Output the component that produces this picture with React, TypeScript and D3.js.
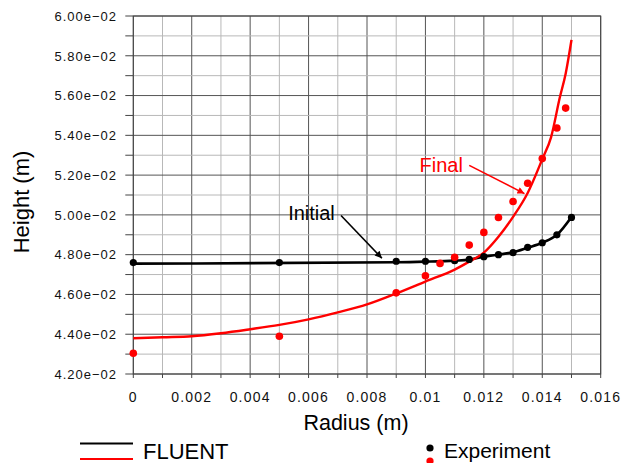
import React, { useEffect, useRef } from "react";
import * as d3 from "d3";

// FLUENT profiles (radius m, height m)
const fluentInitialX = [0, 0.009, 0.010, 0.011, 0.0115, 0.012, 0.0125, 0.013, 0.0135, 0.014, 0.0145, 0.015];
const fluentInitialY = [0.04755, 0.04762, 0.04765, 0.0477, 0.04775, 0.0479, 0.048, 0.04812, 0.04835, 0.0486, 0.049, 0.0499];

const fluentFinalX = [0, 0.001, 0.002, 0.003, 0.004, 0.005, 0.006, 0.007, 0.008, 0.009, 0.010, 0.011, 0.0115, 0.012, 0.0125, 0.013, 0.0135, 0.014, 0.0143, 0.0146, 0.0148, 0.015];
const fluentFinalY = [0.0438, 0.04385, 0.0439, 0.04405, 0.04425, 0.04447, 0.04475, 0.0451, 0.0455, 0.04605, 0.04665, 0.04725, 0.04765, 0.0481, 0.0489, 0.0499, 0.0511, 0.0528, 0.0539, 0.0559, 0.0571, 0.0588];

// Experiment points
const expInitialX = [0, 0.005, 0.009, 0.010, 0.011, 0.0115, 0.012, 0.0125, 0.013, 0.0135, 0.014, 0.0145, 0.015];
const expInitialY = [0.0476, 0.0476, 0.04767, 0.04767, 0.0477, 0.04776, 0.0479, 0.048, 0.0481, 0.04837, 0.0486, 0.049, 0.04987];

const expFinalX = [0, 0.005, 0.009, 0.010, 0.0105, 0.011, 0.0115, 0.012, 0.0125, 0.013, 0.0135, 0.014, 0.0145, 0.0148];
const expFinalY = [0.04304, 0.0439, 0.04608, 0.04694, 0.04756, 0.04787, 0.04848, 0.04912, 0.04987, 0.05067, 0.05159, 0.05283, 0.05437, 0.05537];

const xTicks = [0, 0.002, 0.004, 0.006, 0.008, 0.01, 0.012, 0.014, 0.016];
const xTickLabels = ["0", "0.002", "0.004", "0.006", "0.008", "0.01", "0.012", "0.014", "0.016"];
const yTicks = [0.042, 0.044, 0.046, 0.048, 0.05, 0.052, 0.054, 0.056, 0.058, 0.06];
const yTickLabels = ["4.20e\u221202", "4.40e\u221202", "4.60e\u221202", "4.80e\u221202", "5.00e\u221202",
  "5.20e\u221202", "5.40e\u221202", "5.60e\u221202", "5.80e\u221202", "6.00e\u221202"];

const W = 636;
const H = 463;
const FONT = "Arial, 'Liberation Sans', Helvetica, sans-serif";

export default function App() {
  const ref = useRef<SVGSVGElement>(null);

  useEffect(() => {
    const svg = d3.select(ref.current);
    svg.selectAll("*").remove();

    const x = d3.scaleLinear().domain([0, 0.016]).range([133.3, 600.7]);
    const y = d3.scaleLinear().domain([0.042, 0.06]).range([374, 16]);

    const defs = svg.append("defs");
    [["arrBlack", "#000"], ["arrRed", "#ff0000"]].forEach(([id, c]) => {
      defs.append("marker")
        .attr("id", id)
        .attr("viewBox", "0 0 10 10")
        .attr("refX", 10).attr("refY", 5)
        .attr("markerWidth", 9).attr("markerHeight", 7)
        .attr("markerUnits", "userSpaceOnUse")
        .attr("orient", "auto")
        .append("path")
        .attr("d", "M0,0 L10,5 L0,10 z")
        .attr("fill", c);
    });

    // grid
    const minorX = d3.range(0, 0.0161, 0.001);
    const minorY = d3.range(0.042, 0.06001, 0.001);
    const grid = svg.append("g");
    grid.selectAll("line.vx")
      .data(minorX)
      .join("line")
      .attr("x1", d => x(d)).attr("x2", d => x(d))
      .attr("y1", y(0.042)).attr("y2", y(0.06))
      .attr("stroke", (d, i) => (i % 2 === 0 ? "#555" : "#b8b8b8"))
      .attr("stroke-width", 1);
    grid.selectAll("line.hy")
      .data(minorY)
      .join("line")
      .attr("y1", d => y(d)).attr("y2", d => y(d))
      .attr("x1", x(0)).attr("x2", x(0.016))
      .attr("stroke", (d, i) => (i % 2 === 0 ? "#555" : "#b8b8b8"))
      .attr("stroke-width", 1);

    // border/axes
    svg.append("rect")
      .attr("x", x(0)).attr("y", y(0.06))
      .attr("width", x(0.016) - x(0)).attr("height", y(0.042) - y(0.06))
      .attr("fill", "none").attr("stroke", "#444").attr("stroke-width", 1);

    // ticks
    svg.append("g").selectAll("line")
      .data(minorY)
      .join("line")
      .attr("x1", x(0) - 8).attr("x2", x(0))
      .attr("y1", d => y(d)).attr("y2", d => y(d))
      .attr("stroke", "#444");
    svg.append("g").selectAll("line")
      .data(minorX)
      .join("line")
      .attr("x1", d => x(d)).attr("x2", d => x(d))
      .attr("y1", y(0.042)).attr("y2", y(0.042) + 4)
      .attr("stroke", "#444");

    svg.append("g").selectAll("text")
      .data(yTicks)
      .join("text")
      .attr("x", 117)
      .attr("y", d => y(d) + 4.8)
      .attr("text-anchor", "end")
      .attr("font-family", FONT)
      .attr("font-size", 13)
      .attr("letter-spacing", 1)
      .attr("fill", "#111")
      .text((d, i) => yTickLabels[i]);

    svg.append("g").selectAll("text")
      .data(xTicks)
      .join("text")
      .attr("x", d => x(d))
      .attr("y", 402)
      .attr("text-anchor", "middle")
      .attr("font-family", FONT)
      .attr("font-size", 14)
      .attr("letter-spacing", 1.2)
      .attr("fill", "#111")
      .text((d, i) => xTickLabels[i]);

    // axis titles
    svg.append("text")
      .attr("x", 356).attr("y", 430)
      .attr("text-anchor", "middle")
      .attr("font-family", FONT).attr("font-size", 21.5)
      .text("Radius (m)");
    svg.append("text")
      .attr("transform", "translate(29,202) rotate(-90)")
      .attr("text-anchor", "middle")
      .attr("font-family", FONT).attr("font-size", 22)
      .text("Height (m)");

    // lines
    const line = d3.line<[number, number]>()
      .x(d => x(d[0])).y(d => y(d[1]))
      .curve(d3.curveMonotoneX);
    svg.append("path")
      .datum(d3.zip(fluentInitialX, fluentInitialY) as [number, number][])
      .attr("d", line)
      .attr("fill", "none").attr("stroke", "#000").attr("stroke-width", 2.6);
    svg.append("path")
      .datum(d3.zip(fluentFinalX, fluentFinalY) as [number, number][])
      .attr("d", line)
      .attr("fill", "none").attr("stroke", "#ff0000").attr("stroke-width", 2.4);

    // experiment dots
    svg.append("g").selectAll("circle")
      .data(d3.zip(expInitialX, expInitialY))
      .join("circle")
      .attr("cx", d => x(d[0])).attr("cy", d => y(d[1]))
      .attr("r", 3.6).attr("fill", "#000");
    svg.append("g").selectAll("circle")
      .data(d3.zip(expFinalX, expFinalY))
      .join("circle")
      .attr("cx", d => x(d[0])).attr("cy", d => y(d[1]))
      .attr("r", 3.8).attr("fill", "#ff0000");

    // annotations
    svg.append("text")
      .attr("x", x(0.0053)).attr("y", y(0.04972))
      .attr("font-family", FONT).attr("font-size", 20)
      .text("Initial");
    svg.append("line")
      .attr("x1", x(0.00711)).attr("y1", y(0.04997))
      .attr("x2", x(0.00851)).attr("y2", y(0.04782))
      .attr("stroke", "#000").attr("stroke-width", 1.6)
      .attr("marker-end", "url(#arrBlack)");
    svg.append("text")
      .attr("x", x(0.0098)).attr("y", y(0.05214))
      .attr("font-family", FONT).attr("font-size", 20)
      .attr("fill", "#ff0000")
      .text("Final");
    svg.append("line")
      .attr("x1", x(0.0115)).attr("y1", y(0.05249))
      .attr("x2", x(0.01339)).attr("y2", y(0.05107))
      .attr("stroke", "#ff0000").attr("stroke-width", 1.6)
      .attr("marker-end", "url(#arrRed)");

    // legend
    const lg = svg.append("g");
    lg.append("line").attr("x1", 80).attr("x2", 133).attr("y1", 443.5).attr("y2", 443.5)
      .attr("stroke", "#000").attr("stroke-width", 2.2);
    lg.append("line").attr("x1", 80).attr("x2", 133).attr("y1", 459).attr("y2", 459)
      .attr("stroke", "#ff0000").attr("stroke-width", 2.2);
    lg.append("text").attr("x", 143).attr("y", 458.5)
      .attr("font-family", FONT).attr("font-size", 22)
      .text("FLUENT");
    lg.append("circle").attr("cx", 430).attr("cy", 448).attr("r", 3.6).attr("fill", "#000");
    lg.append("circle").attr("cx", 430).attr("cy", 461).attr("r", 3.6).attr("fill", "#ff0000");
    lg.append("text").attr("x", 444).attr("y", 458)
      .attr("font-family", FONT).attr("font-size", 21)
      .text("Experiment");
  }, []);

  return (
    <svg
      ref={ref}
      width={W}
      height={H}
      style={{ position: "absolute", left: 0, top: 0, background: "#fff" }}
    />
  );
}
